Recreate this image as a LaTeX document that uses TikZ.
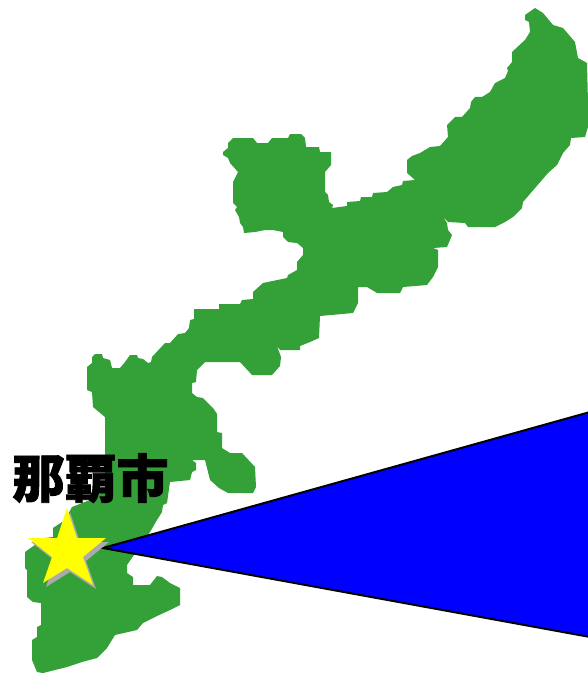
\documentclass[tikz,border=0pt]{standalone}
\usepackage{fontspec}
\newfontfamily\cjk[BoldFeatures={FakeBold=1.6}]{Noto Sans CJK JP}
\definecolor{islandgreen}{RGB}{51,160,56}
\definecolor{beamblue}{RGB}{0,0,255}
\definecolor{starshadow}{RGB}{170,170,170}
\definecolor{staryellow}{RGB}{255,255,0}
\tikzset{
  island/.style={fill=islandgreen,draw=none},
  beam/.style={fill=beamblue,draw=black,line width=2bp,line join=miter},
  starbody/.style={fill=staryellow,draw=none},
  starback/.style={fill=starshadow,draw=none},
  placename/.style={font=\cjk\bfseries\fontsize{52bp}{54bp}\selectfont,text=black,inner sep=0pt}
}
\begin{document}
\begin{tikzpicture}[x=1bp,y=-1bp]
\useasboundingbox (0,0) rectangle (588,673);
\fill[white] (0,0) rectangle (588,673);
\path[island] (535,8) -- (543,13) -- (553,25) -- (563,28) -- (575,42) -- (578,58) -- (587,63) -- (588,103) -- (588,127) -- (585,137) -- (571,138) -- (570,145) -- (563,153) -- (557,165) -- (548,173) -- (523,202) -- (522,208) -- (513,217) -- (505,222) -- (495,227) -- (468,227) -- (465,223) -- (448,222) -- (443,217) -- (447,223) -- (448,230) -- (452,235) -- (447,247) -- (433,248) -- (438,250) -- (438,267) -- (433,277) -- (427,285) -- (403,287) -- (400,293) -- (377,293) -- (367,287) -- (358,287) -- (358,303) -- (353,313) -- (320,316) -- (319,338) -- (310,342) -- (300,346) -- (300,350) -- (280,350) -- (277,346) -- (281,357) -- (280,366) -- (272,375) -- (252,375) -- (240,362) -- (205,362) -- (197,370) -- (196,382) -- (192,383) -- (192,393) -- (197,397) -- (203,398) -- (213,408) -- (217,414) -- (217,432) -- (222,433) -- (222,448) -- (230,453) -- (242,453) -- (255,467) -- (256,487) -- (253,493) -- (228,493) -- (219,488) -- (210,480) -- (205,460) -- (192,460) -- (196,463) -- (196,470) -- (192,472) -- (190,480) -- (170,482) -- (167,503) -- (163,505) -- (162,512) -- (157,520) -- (150,532) -- (127,565) -- (127,573) -- (133,577) -- (133,585) -- (150,585) -- (157,576) -- (162,577) -- (170,583) -- (180,588) -- (180,605) -- (170,610) -- (155,617) -- (143,623) -- (137,630) -- (115,635) -- (107,648) -- (97,658) -- (82,662) -- (67,667) -- (43,673) -- (37,672) -- (32,660) -- (32,640) -- (37,637) -- (37,627) -- (41,625) -- (41,603) -- (33,602) -- (27,597) -- (27,570) -- (25,568) -- (25,552) -- (32,547) -- (45,538) -- (53,537) -- (53,528) -- (65,520) -- (72,507) -- (90,500) -- (105,490) -- (105,417) -- (93,407) -- (92,392) -- (87,390) -- (87,367) -- (92,363) -- (92,357) -- (95,354) -- (102,354) -- (103,358) -- (110,360) -- (112,368) -- (120,368) -- (125,362) -- (130,355) -- (137,355) -- (138,358) -- (143,359) -- (148,363) -- (151,362) -- (152,357) -- (165,343) -- (170,343) -- (178,334) -- (185,333) -- (189,328) -- (190,320) -- (194,319) -- (194,309) -- (219,309) -- (219,304) -- (240,304) -- (242,300) -- (253,299) -- (253,292) -- (263,283) -- (287,278) -- (288,275) -- (297,270) -- (297,262) -- (303,255) -- (303,248) -- (297,243) -- (288,242) -- (283,237) -- (283,232) -- (273,230) -- (265,230) -- (255,232) -- (244,233) -- (243,227) -- (240,223) -- (239,217) -- (235,210) -- (237,207) -- (233,203) -- (233,182) -- (238,172) -- (230,163) -- (228,158) -- (223,155) -- (223,152) -- (228,148) -- (228,143) -- (233,138) -- (253,138) -- (257,143) -- (268,143) -- (272,138) -- (288,138) -- (290,134) -- (301,134) -- (305,138) -- (306,147) -- (319,147) -- (320,152) -- (331,152) -- (331,165) -- (325,172) -- (325,192) -- (328,195) -- (329,202) -- (333,205) -- (332,208) -- (347,206) -- (347,202) -- (360,201) -- (361,197) -- (372,197) -- (373,193) -- (387,192) -- (393,187) -- (402,185) -- (403,181) -- (415,180) -- (407,173) -- (407,160) -- (412,156) -- (420,153) -- (430,147) -- (440,146) -- (448,137) -- (447,125) -- (455,117) -- (462,117) -- (470,108) -- (471,102) -- (475,97) -- (482,97) -- (490,92) -- (495,83) -- (505,78) -- (508,71) -- (507,68) -- (512,62) -- (512,52) -- (525,40) -- (530,32) -- (529,22) -- (525,20) -- (525,15) -- cycle;
\path[beam] (103,548) -- (590,412) -- (590,637) -- cycle;
\path[starback,shift={(3,4)}] (67,508) -- (77,538) -- (106,538) -- (83,557) -- (93,585) -- (67,568) -- (43,583) -- (52,557) -- (28,538) -- (57,538) -- cycle;
\path[starbody] (67,508) -- (77,538) -- (106,538) -- (83,557) -- (93,585) -- (67,568) -- (43,583) -- (52,557) -- (28,538) -- (57,538) -- cycle;
\node[placename,anchor=center] (naha) at (90.5,478) {那覇市};
\end{tikzpicture}
\end{document}
